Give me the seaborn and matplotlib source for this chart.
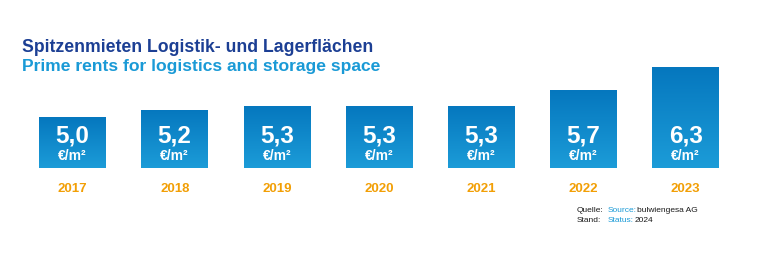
import numpy as np
import pandas as pd
import matplotlib
matplotlib.use("Agg")
import matplotlib.pyplot as plt
import seaborn as sns
from matplotlib.colors import LinearSegmentedColormap

years = ["2017", "2018", "2019", "2020", "2021", "2022", "2023"]
rents = [5.0, 5.2, 5.3, 5.3, 5.3, 5.7, 6.3]
value_labels = ["5,0", "5,2", "5,3", "5,3", "5,3", "5,7", "6,3"]
unit = "€/m²"
title_de = "Spitzenmieten Logistik- und Lagerflächen"
title_en = "Prime rents for logistics and storage space"

sns.set_theme(style="white")
plt.rcParams['font.family'] = ['Liberation Sans', 'DejaVu Sans']

W, H = 770, 256
fig = plt.figure(figsize=(W / 100, H / 100), dpi=100)
fig.patch.set_facecolor("white")

spacing = 102.2
left_px = 72.5 - spacing / 2
bottom_px = 168
top_px = 55
ax = fig.add_axes([left_px / W, (H - bottom_px) / H, 7 * spacing / W, (bottom_px - top_px) / H])

df = pd.DataFrame({"year": years, "rent": rents})
sns.barplot(data=df, x="year", y="rent", color="#0a86cc", width=0.65, ax=ax,
            saturation=1, errorbar=None)

ybase = 3.69
px_per_unit = 38.6
ax.set_ylim(ybase, ybase + (bottom_px - top_px) / px_per_unit)
ax.set_xlim(-0.5, 6.5)
ax.axis("off")

cmap = LinearSegmentedColormap.from_list("g", ["#1c9cd8", "#0577be"])
grad = np.linspace(0, 1, 256).reshape(-1, 1)
for p in ax.patches:
    x0, w = p.get_x(), p.get_width()
    top = p.get_y() + p.get_height()
    p.set_edgecolor("none")
    im = ax.imshow(grad, extent=[x0, x0 + w, ybase, top], origin="lower",
                   cmap=cmap, aspect="auto", zorder=p.get_zorder() + 0.1)
    im.set_clip_path(p)
ax.set_xlim(-0.5, 6.5)
ax.set_ylim(ybase, ybase + (bottom_px - top_px) / px_per_unit)

for i, (v, lab) in enumerate(zip(rents, value_labels)):
    ax.annotate(lab, xy=(i, ybase), xytext=(0, (168 - 136) * 0.72), textcoords="offset points",
                ha="center", va="center", color="white", fontsize=17.5, fontweight="bold", zorder=5)
    ax.annotate(unit, xy=(i, ybase), xytext=(0, (168 - 155.5) * 0.72), textcoords="offset points",
                ha="center", va="center", color="white", fontsize=10, fontweight="bold", zorder=5)
    ax.annotate(years[i], xy=(i, ybase), xytext=(0, (168 - 189) * 0.72), textcoords="offset points",
                ha="center", va="center", color="#f29f05", fontsize=9.5, fontweight="bold",
                annotation_clip=False)

fig.text(22 / W, 1 - 48 / H, title_de, color="#1c3f94", fontsize=12.7, fontweight="bold",
         ha="left", va="center")
fig.text(22 / W, 1 - 67 / H, title_en, color="#1a9ad6", fontsize=12.6, fontweight="bold",
         ha="left", va="center")

fs = 6
fig.text(577 / W, 1 - 211 / H, "Quelle:", color="#1a1a1a", fontsize=fs, ha="left", va="center")
fig.text(608 / W, 1 - 211 / H, "Source:", color="#1a9ad6", fontsize=fs, ha="left", va="center")
fig.text(637 / W, 1 - 211 / H, "bulwiengesa AG", color="#1a1a1a", fontsize=fs, ha="left", va="center")
fig.text(577 / W, 1 - 221 / H, "Stand:", color="#1a1a1a", fontsize=fs, ha="left", va="center")
fig.text(608 / W, 1 - 221 / H, "Status:", color="#1a9ad6", fontsize=fs, ha="left", va="center")
fig.text(635 / W, 1 - 221 / H, "2024", color="#1a1a1a", fontsize=fs, ha="left", va="center")

fig.savefig("out.png", dpi=100, facecolor="white")
